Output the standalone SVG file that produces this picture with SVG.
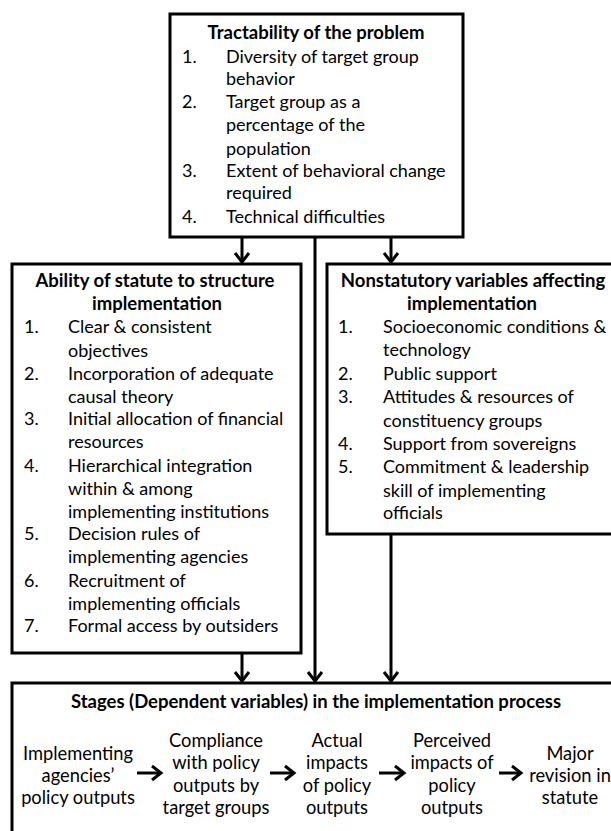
<svg xmlns="http://www.w3.org/2000/svg" width="611" height="831" viewBox="0 0 611 831">
<defs>
<style>
.box{fill:#fff;stroke:#000;stroke-width:3}
text{font-family:Lato,"Open Sans","Liberation Sans",sans-serif;font-size:18px;fill:#000}
.t{font-weight:bold;text-anchor:middle;font-size:18.5px}
.c{text-anchor:middle;font-size:18.3px}
.con{stroke:#000;stroke-width:3;fill:none}
</style>
<marker id="ah" markerUnits="userSpaceOnUse" markerWidth="20" markerHeight="20" viewBox="-12 -10 14 20" refX="0" refY="0" orient="auto">
<path d="M-9,-7 L0,0 L-9,7" fill="none" stroke="#000" stroke-width="3"/>
</marker>
</defs>
<rect width="611" height="831" fill="#fff"/>
<g id="tractability">
<rect class="box" x="170" y="14" width="293" height="223"/>
<text class="t" x="316" y="39">Tractability of the problem</text>
<text x="182" y="63">1.</text><text x="226" y="63">Diversity of target group</text>
<text x="226" y="85">behavior</text>
<text x="182" y="108">2.</text><text x="226" y="108">Target group as a</text>
<text x="226" y="131">percentage of the</text>
<text x="226" y="155">population</text>
<text x="182" y="177">3.</text><text x="226" y="177">Extent of behavioral change</text>
<text x="226" y="199">required</text>
<text x="182" y="223">4.</text><text x="226" y="223">Technical difficulties</text>
</g>
<g id="statute">
<rect class="box" x="12" y="264" width="289" height="389"/>
<text class="t" x="155" y="287">Ability of statute to structure</text>
<text class="t" x="157" y="310">implementation</text>
<text x="24" y="333">1.</text><text x="68" y="333">Clear &amp; consistent</text>
<text x="68" y="357">objectives</text>
<text x="24" y="380">2.</text><text x="68" y="380">Incorporation of adequate</text>
<text x="68" y="403">causal theory</text>
<text x="24" y="425">3.</text><text x="68" y="425">Initial allocation of financial</text>
<text x="68" y="448">resources</text>
<text x="24" y="472">4.</text><text x="68" y="472">Hierarchical integration</text>
<text x="68" y="495">within &amp; among</text>
<text x="68" y="518">implementing institutions</text>
<text x="24" y="540">5.</text><text x="68" y="540">Decision rules of</text>
<text x="68" y="563">implementing agencies</text>
<text x="24" y="587">6.</text><text x="68" y="587">Recruitment of</text>
<text x="68" y="610">implementing officials</text>
<text x="24" y="632">7.</text><text x="68" y="632">Formal access by outsiders</text>
</g>
<g id="nonstatutory">
<rect class="box" x="327" y="264" width="292" height="270"/>
<text class="t" x="473" y="287">Nonstatutory variables affecting</text>
<text class="t" x="472" y="310">implementation</text>
<text x="338" y="333">1.</text><text x="383" y="333">Socioeconomic conditions &amp;</text>
<text x="383" y="356">technology</text>
<text x="338" y="380">2.</text><text x="383" y="380">Public support</text>
<text x="338" y="403">3.</text><text x="383" y="403">Attitudes &amp; resources of</text>
<text x="383" y="427">constituency groups</text>
<text x="338" y="450">4.</text><text x="383" y="450">Support from sovereigns</text>
<text x="338" y="473">5.</text><text x="383" y="473">Commitment &amp; leadership</text>
<text x="383" y="497">skill of implementing</text>
<text x="383" y="519">officials</text>
</g>
<g id="stages">
<rect class="box" x="12" y="683" width="608" height="160"/>
<text class="t" x="316" y="708">Stages (Dependent variables) in the implementation process</text>
<g id="stage1">
<text class="c" x="78" y="760">Implementing</text>
<text class="c" x="78" y="782">agencies’</text>
<text class="c" x="78" y="804">policy outputs</text>
</g>
<g id="stage2">
<text class="c" x="216" y="747">Compliance</text>
<text class="c" x="216" y="769">with policy</text>
<text class="c" x="216" y="792">outputs by</text>
<text class="c" x="216" y="814">target groups</text>
</g>
<g id="stage3">
<text class="c" x="337" y="747">Actual</text>
<text class="c" x="337" y="769">impacts</text>
<text class="c" x="337" y="792">of policy</text>
<text class="c" x="337" y="814">outputs</text>
</g>
<g id="stage4">
<text class="c" x="452" y="747">Perceived</text>
<text class="c" x="452" y="769">impacts of</text>
<text class="c" x="452" y="792">policy</text>
<text class="c" x="452" y="814">outputs</text>
</g>
<g id="stage5">
<text class="c" x="570" y="760">Major</text>
<text class="c" x="570" y="782">revision in</text>
<text class="c" x="570" y="804">statute</text>
</g>
</g>
<g id="connectors">
<line class="con" x1="242" y1="238" x2="242" y2="262" marker-end="url(#ah)"/>
<line class="con" x1="391" y1="238" x2="391" y2="262" marker-end="url(#ah)"/>
<line class="con" x1="315" y1="238" x2="315" y2="681" marker-end="url(#ah)"/>
<line class="con" x1="242" y1="654" x2="242" y2="681" marker-end="url(#ah)"/>
<line class="con" x1="391" y1="535" x2="391" y2="681" marker-end="url(#ah)"/>
<line class="con" x1="137" y1="773" x2="161" y2="773" marker-end="url(#ah)"/>
<line class="con" x1="270" y1="773" x2="294" y2="773" marker-end="url(#ah)"/>
<line class="con" x1="379" y1="773" x2="404" y2="773" marker-end="url(#ah)"/>
<line class="con" x1="499" y1="773" x2="521" y2="773" marker-end="url(#ah)"/>
</g>
</svg>
